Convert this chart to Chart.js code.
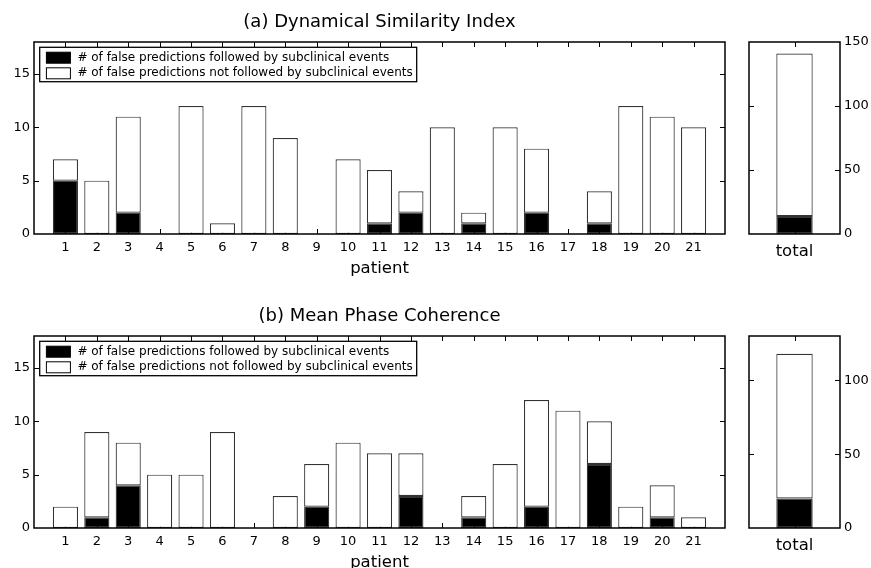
<!DOCTYPE html>
<html>
<head>
<meta charset="utf-8">
<title>False predictions per patient</title>
<script src="https://cdn.jsdelivr.net/npm/chart.js@4.4.0/dist/chart.umd.min.js"></script>
<style>
    html, body { margin: 0; padding: 0; background: #fff; overflow: hidden; }
    #wrap { position: relative; width: 871px; height: 568px; }
    #wrap canvas { position: absolute; }
</style>
</head>
<body>
<div id="wrap">
    <canvas id="dsiChart" width="740" height="284" style="left:0;top:0"></canvas>
    <canvas id="dsiTotalChart" width="131" height="284" style="left:740px;top:0"></canvas>
    <canvas id="mpcChart" width="740" height="284" style="left:0;top:294px"></canvas>
    <canvas id="mpcTotalChart" width="131" height="284" style="left:740px;top:294px"></canvas>
</div>
<script>
Chart.defaults.font.family = '"DejaVu Sans", "Liberation Sans", sans-serif'
Chart.defaults.color = '#000'
Chart.defaults.animation = false

var patients = [1, 2, 3, 4, 5, 6, 7, 8, 9, 10, 11, 12, 13, 14, 15, 16, 17, 18, 19, 20, 21]

// (a) dynamical similarity index
var dsiFollowed    = [5, 0, 2, 0, 0, 0, 0, 0, 0, 0, 1, 2, 0, 1, 0, 2, 0, 1, 0, 0, 0]
var dsiNotFollowed = [2, 5, 9, 0, 12, 1, 12, 9, 0, 7, 5, 2, 10, 1, 10, 6, 0, 3, 12, 11, 10]

// (b) mean phase coherence
var mpcFollowed    = [0, 1, 4, 0, 0, 0, 0, 0, 2, 0, 0, 3, 0, 1, 0, 2, 0, 6, 0, 1, 0]
var mpcNotFollowed = [2, 8, 4, 5, 5, 9, 0, 3, 4, 8, 7, 4, 0, 2, 6, 10, 11, 4, 2, 3, 1]

var totalLabels = ['total']
var dsiTotalFollowed = [14]
var dsiTotalNotFollowed = [127]
var mpcTotalFollowed = [20]
var mpcTotalNotFollowed = [98]

var patientTicks = [0, 5, 10, 15]
var dsiTotalTicks = [0, 50, 100, 150]
var mpcTotalTicks = [0, 50, 100]

var legendLabels = [
    '# of false predictions followed by subclinical events',
    '# of false predictions not followed by subclinical events'
]

// box around the plot area with inward pointing tick marks
var frameBox = {
    id: 'frameBox',
    beforeDatasetsDraw: function (chart) {
        var ctx = chart.ctx
        var a = chart.chartArea
        var xs = chart.scales.x
        var ys = chart.scales.y
        ctx.save()
        ctx.strokeStyle = '#000'
        ctx.lineWidth = 1
        ctx.beginPath()
        xs.ticks.forEach(function (t, i) {
            var px = Math.round(xs.getPixelForTick(i)) + 0.5
            if (px <= a.left + 2 || px >= a.right - 2) return
            ctx.moveTo(px, a.bottom)
            ctx.lineTo(px, a.bottom - 5)
            ctx.moveTo(px, a.top)
            ctx.lineTo(px, a.top + 5)
        })
        ys.ticks.forEach(function (t, i) {
            var py = Math.round(ys.getPixelForTick(i)) + 0.5
            if (py <= a.top + 2 || py >= a.bottom - 2) return
            ctx.moveTo(a.left, py)
            ctx.lineTo(a.left + 5, py)
            ctx.moveTo(a.right, py)
            ctx.lineTo(a.right - 5, py)
        })
        ctx.stroke()
        ctx.restore()
    },
    afterDatasetsDraw: function (chart) {
        var ctx = chart.ctx
        var a = chart.chartArea
        ctx.save()
        ctx.strokeStyle = '#000'
        ctx.lineWidth = 1.5
        ctx.strokeRect(a.left, a.top, a.right - a.left, a.bottom - a.top)
        ctx.restore()
    }
}

// legend drawn as a framed box in the upper left of the plot area
var boxLegend = {
    id: 'boxLegend',
    afterDraw: function (chart) {
        var ctx = chart.ctx
        var a = chart.chartArea
        var left = a.left + 5.7
        var top = a.top + 5.3
        ctx.save()
        ctx.fillStyle = '#fff'
        ctx.fillRect(left, top, 377, 34.4)
        ctx.strokeStyle = '#000'
        ctx.lineWidth = 1.3
        ctx.strokeRect(left, top, 377, 34.4)
        ctx.font = '12px "DejaVu Sans", sans-serif'
        ctx.textBaseline = 'middle'
        ctx.lineWidth = 1
        chart.data.datasets.forEach(function (ds, i) {
            var cy = top + 10.4 + i * 15.6
            ctx.fillStyle = ds.backgroundColor
            ctx.fillRect(left + 6.7, cy - 5.5, 24, 11)
            ctx.strokeRect(left + 6.7, cy - 5.5, 24, 11)
            ctx.fillStyle = '#000'
            ctx.fillText(ds.label, left + 37.7, cy)
        })
        ctx.restore()
    }
}

function barSet(label, values, fill, xs) {
    return {
        label: label,
        data: values.map(function (v, i) { return xs ? { x: xs[i], y: v } : v }),
        backgroundColor: fill,
        borderColor: '#333',
        borderWidth: 1.2,
        borderSkipped: false,
        barPercentage: 1,
        categoryPercentage: 0.8
    }
}

function patientChart(id, title, followed, notFollowed) {
    var ctx = document.getElementById(id).getContext('2d')
    return new Chart(ctx, {
        type: 'bar',
        data: {
            datasets: [
                barSet(legendLabels[0], followed, '#000', patients),
                barSet(legendLabels[1], notFollowed, '#fff', patients)
            ]
        },
        options: {
            responsive: false,
            devicePixelRatio: 1,
            layout: { padding: { right: 15 } },
            plugins: {
                legend: { display: false },
                tooltip: { enabled: false },
                title: {
                    display: true,
                    text: title,
                    fullSize: false,
                    color: '#000',
                    font: { size: 18, weight: 'normal' },
                    padding: { top: 11.4, bottom: 9 }
                }
            },
            scales: {
                x: {
                    type: 'linear',
                    min: 0,
                    max: patients.length + 1,
                    offset: false,
                    stacked: true,
                    grid: { display: false, drawTicks: false, offset: false },
                    border: { display: false },
                    afterBuildTicks: function (s) {
                        s.ticks = patients.map(function (p) { return { value: p } })
                    },
                    ticks: { autoSkip: false, maxRotation: 0, padding: 6, font: { size: 13 } },
                    title: { display: true, text: 'patient', font: { size: 16.5 }, padding: { top: 0, bottom: 5 } },
                    afterFit: function (s) { s.height = 50 }
                },
                y: {
                    min: 0,
                    max: 18,
                    stacked: true,
                    grid: { display: false, drawTicks: false },
                    border: { display: false },
                    afterBuildTicks: function (s) {
                        s.ticks = patientTicks.map(function (v) { return { value: v } })
                    },
                    ticks: { padding: 4, font: { size: 13 } },
                    afterFit: function (s) { s.width = 34 }
                }
            }
        },
        plugins: [frameBox, boxLegend]
    })
}

function totalChart(id, followed, notFollowed, yMax, yTicks) {
    var ctx = document.getElementById(id).getContext('2d')
    var a = barSet(legendLabels[0], followed, '#000')
    var b = barSet(legendLabels[1], notFollowed, '#fff')
    a.categoryPercentage = b.categoryPercentage = 0.4
    return new Chart(ctx, {
        type: 'bar',
        data: { labels: totalLabels, datasets: [a, b] },
        options: {
            responsive: false,
            devicePixelRatio: 1,
            layout: { padding: { left: 9, top: 42 } },
            plugins: {
                legend: { display: false },
                tooltip: { enabled: false }
            },
            scales: {
                x: {
                    stacked: true,
                    grid: { display: false, drawTicks: false },
                    border: { display: false },
                    ticks: { padding: 8, font: { size: 16.5 } },
                    afterFit: function (s) { s.height = 50 }
                },
                y: {
                    position: 'right',
                    min: 0,
                    max: yMax,
                    stacked: true,
                    grid: { display: false, drawTicks: false },
                    border: { display: false },
                    afterBuildTicks: function (s) {
                        s.ticks = yTicks.map(function (v) { return { value: v } })
                    },
                    ticks: { padding: 4, font: { size: 13 } },
                    afterFit: function (s) { s.width = 31 }
                }
            }
        },
        plugins: [frameBox]
    })
}

patientChart('dsiChart', '(a) Dynamical Similarity Index', dsiFollowed, dsiNotFollowed)
totalChart('dsiTotalChart', dsiTotalFollowed, dsiTotalNotFollowed, 150, dsiTotalTicks)
patientChart('mpcChart', '(b) Mean Phase Coherence', mpcFollowed, mpcNotFollowed)
totalChart('mpcTotalChart', mpcTotalFollowed, mpcTotalNotFollowed, 130, mpcTotalTicks)
</script>
</body>
</html>
